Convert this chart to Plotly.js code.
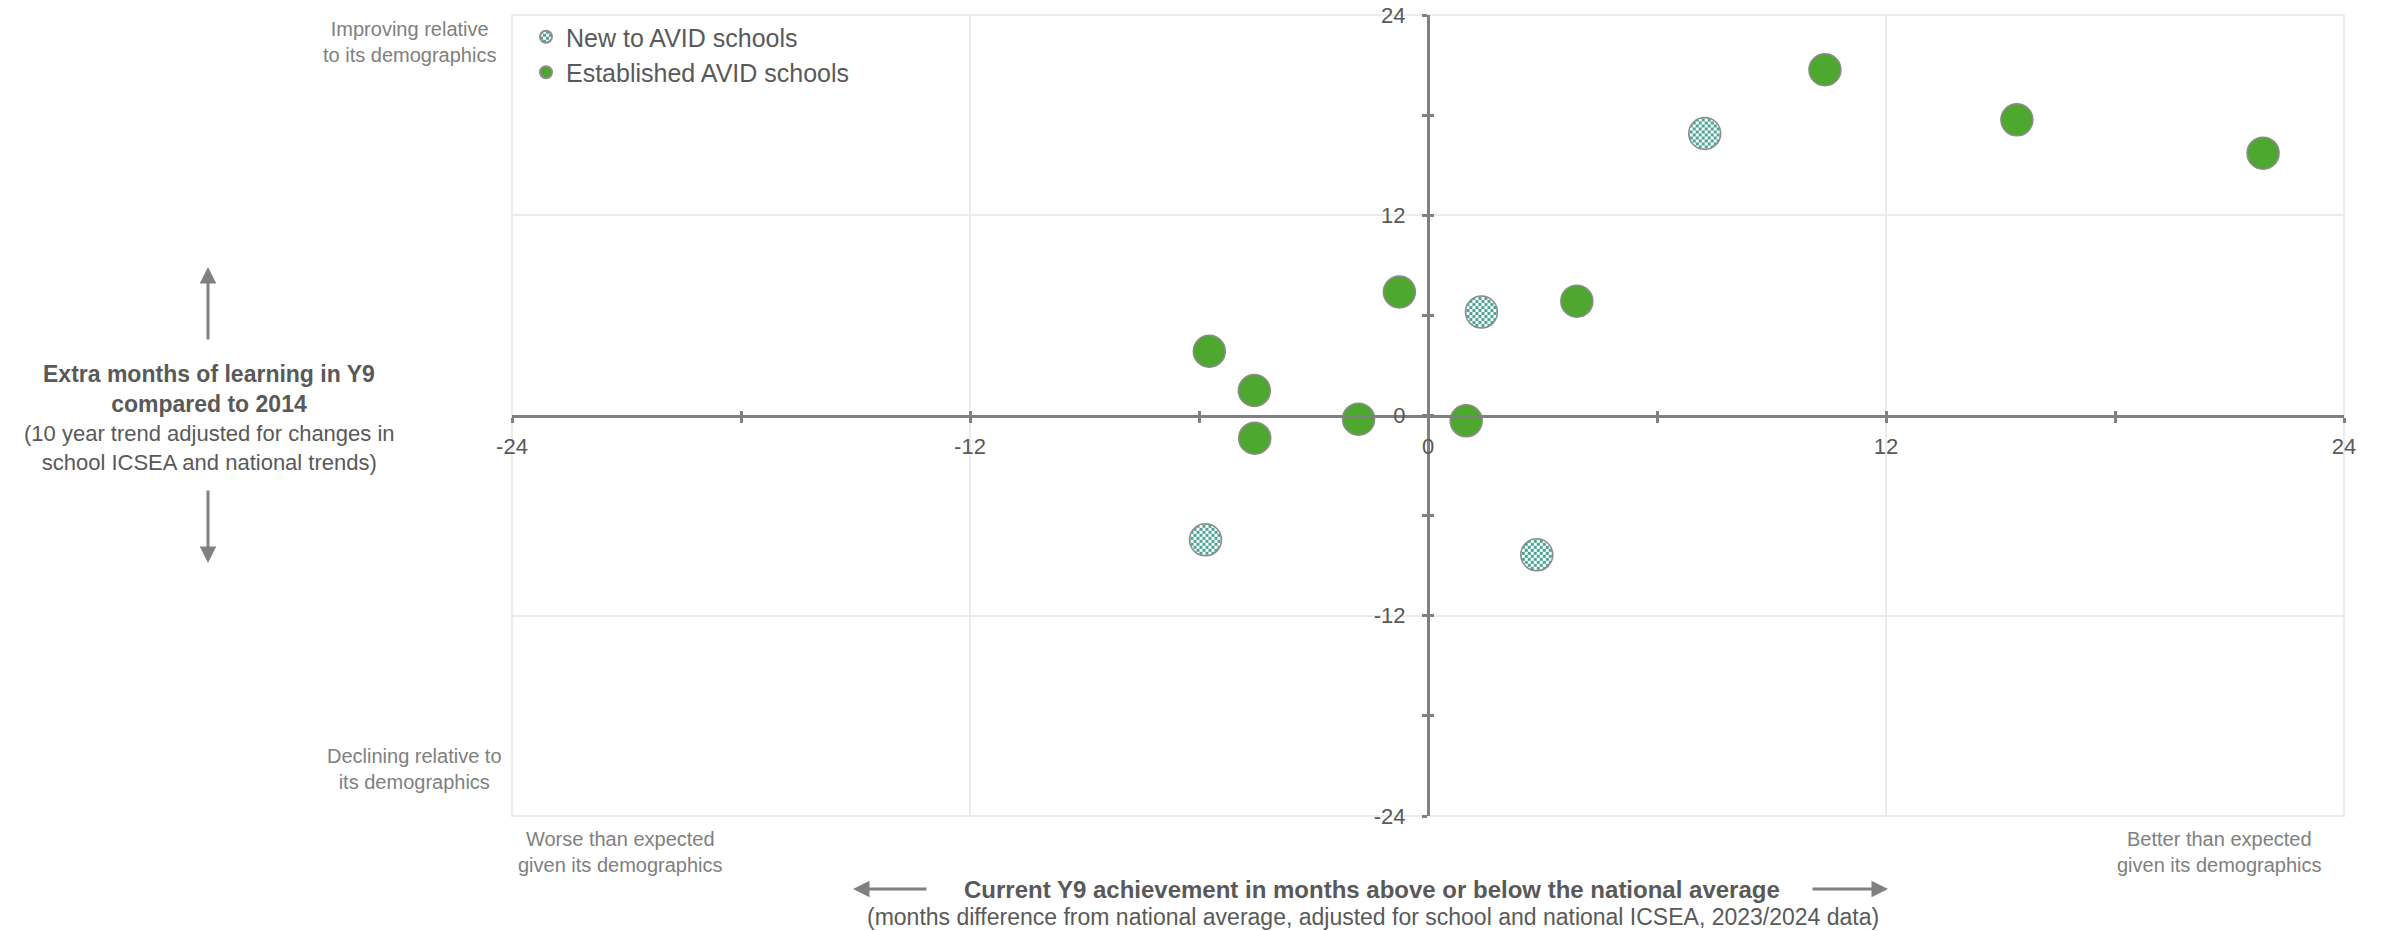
<!DOCTYPE html>
<html>
<head>
<meta charset="utf-8">
<script src="https://cdn.plot.ly/plotly-3.0.1.min.js"></script>
<style>
  html, body { margin: 0; padding: 0; background: #ffffff; }
  #chart { width: 2382px; height: 931px; }
</style>
</head>
<body>
<svg width="0" height="0" style="position:absolute">
  <defs>
    <pattern id="chk" patternUnits="userSpaceOnUse" width="6" height="6">
      <rect width="6" height="6" fill="#ffffff"></rect>
      <rect width="3" height="3" fill="#4aa596"></rect>
      <rect x="3" y="3" width="3" height="3" fill="#4aa596"></rect>
    </pattern>
  </defs>
</svg>
<div id="chart"></div>
<script>
// ---- Data (months) ----
const seriesNames = ["New to AVID schools", "Established AVID schools"];
const newX = [7.25, 1.4, -5.83, 2.85];
const newY = [16.9, 6.2, -7.45, -8.35];
const estX = [10.4, 15.43, 21.88, -0.75, 3.9, -5.73, -4.55, -1.82, 1.0, -4.54];
const estY = [20.72, 17.72, 15.72, 7.4, 6.85, 3.85, 1.5, -0.22, -0.32, -1.36];

const xTickVals = [-24, -12, 0, 12, 24];
const xTickText = ["-24", "-12", "0", "12", "24"];
const yTickVals = [-24, -12, 0, 12, 24];
const yTickText = ["-24", "-12", "0", "12", "24"];
const axisRange = [-24, 24];

// ---- Layout geometry (pixels) ----
const W = 2382, H = 931;
const M = { l: 512, r: 38, t: 15, b: 115 };
const PW = W - M.l - M.r, PH = H - M.t - M.b;
const px = v => (v - M.l) / PW;
const py = v => (M.t + PH - v) / PH;

const FONT = '"Liberation Sans", Arial, sans-serif';
const DARK = '#595959';
const LIGHT = '#808080';
const AXIS = '#808080';
const GRID = '#ececec';

const traces = [
  {
    name: seriesNames[0], x: newX, y: newY, type: 'scatter', mode: 'markers',
    marker: { size: 32, color: '#a4d2c9', line: { color: '#8c8c8c', width: 1.5 } },
    hoverinfo: 'skip'
  },
  {
    name: seriesNames[1], x: estX, y: estY, type: 'scatter', mode: 'markers',
    marker: { size: 32, color: '#4ea72e', line: { color: '#8c8c8c', width: 1.5 } },
    hoverinfo: 'skip'
  },
  { x: [null], y: [null], xaxis: 'x2', yaxis: 'y2', type: 'scatter', mode: 'markers',
    showlegend: false, hoverinfo: 'skip' }
];

function ann(text, x, y, size, color, extra) {
  return Object.assign({
    text: text, xref: 'paper', yref: 'paper', x: px(x), y: py(y),
    xanchor: 'center', yanchor: 'middle', showarrow: false, align: 'center',
    font: { family: FONT, size: size, color: color }
  }, extra || {});
}
function arrow(tipX, tipY, ax, ay) {
  return {
    text: '', xref: 'paper', yref: 'paper', x: px(tipX), y: py(tipY),
    ax: ax, ay: ay, showarrow: true, arrowhead: 2, arrowsize: 1.1,
    arrowwidth: 3, arrowcolor: AXIS, standoff: 0, startstandoff: 0
  };
}

const annotations = [
  ann('Improving relative<br>to its demographics', 409, 42, 20, LIGHT),
  ann('Declining relative to<br>its demographics', 414, 769, 20, LIGHT),
  ann('Worse than expected<br>given its demographics', 620, 852, 20, LIGHT),
  ann('Better than expected<br>given its demographics', 2219, 852, 20, LIGHT),
  ann('<b>Extra months of learning in Y9<br>compared to 2014</b>', 209, 389, 23, DARK),
  ann('(10 year trend adjusted for changes in<br>school ICSEA and national trends)', 209, 448, 22, DARK),
  ann('<b>Current Y9 achievement in months above or below the national average</b>', 1372, 889, 24, DARK),
  ann('(months difference from national average, adjusted for school and national ICSEA, 2023/2024 data)', 1373, 917, 23, DARK),
  arrow(208, 267, 0, 74),
  arrow(208, 563, 0, -74),
  arrow(853, 889, 75, 0),
  arrow(1888, 889, -77, 0)
];

const baseAxis = {
  range: axisRange, autorange: false, fixedrange: true,
  anchor: 'free', position: 0.5,
  showline: true, linecolor: AXIS, linewidth: 3,
  zeroline: false,
  showgrid: true, gridcolor: GRID, gridwidth: 2,
  tickmode: 'array',
  ticks: 'outside', ticklen: 5, tickwidth: 3, tickcolor: AXIS,
  tickfont: { family: FONT, size: 22, color: DARK },
  minor: { tickmode: 'linear', tick0: 0, dtick: 6, ticks: 'outside', ticklen: 5,
           tickwidth: 3, tickcolor: AXIS, showgrid: false }
};

const layout = {
  width: W, height: H,
  margin: M,
  paper_bgcolor: '#ffffff', plot_bgcolor: '#ffffff',
  font: { family: FONT, color: DARK },
  showlegend: true,
  legend: {
    x: px(526), y: py(14), xanchor: 'left', yanchor: 'top',
    font: { family: FONT, size: 25, color: DARK },
    bgcolor: 'rgba(0,0,0,0)', itemsizing: 'constant', tracegroupgap: 0
  },
  xaxis: Object.assign({}, baseAxis, {
    tickvals: xTickVals, ticktext: xTickText, ticklabelstandoff: 5
  }),
  yaxis: Object.assign({}, baseAxis, {
    tickvals: yTickVals, ticktext: yTickText, ticklabelstandoff: 12
  }),
  xaxis2: {
    overlaying: 'x', range: axisRange, autorange: false, fixedrange: true,
    anchor: 'free', position: 0.5, showline: false, zeroline: false, showgrid: false,
    tickmode: 'linear', tick0: 0, dtick: 6, ticks: 'inside', ticklen: 5,
    tickwidth: 3, tickcolor: AXIS, showticklabels: false
  },
  yaxis2: {
    overlaying: 'y', range: axisRange, autorange: false, fixedrange: true,
    anchor: 'free', position: 0.5, showline: false, zeroline: false, showgrid: false,
    tickmode: 'linear', tick0: 0, dtick: 6, ticks: 'inside', ticklen: 5,
    tickwidth: 3, tickcolor: AXIS, showticklabels: false
  },
  shapes: [
    { type: 'rect', xref: 'paper', yref: 'paper', x0: 0, x1: 1, y0: 0, y1: 1,
      line: { color: GRID, width: 2 }, layer: 'below' }
  ],
  annotations: annotations
};

Plotly.newPlot('chart', traces, layout, { staticPlot: true, displayModeBar: false })
  .then(function (gd) {
    const tr = gd.querySelectorAll('.subplot.xy .scatterlayer .trace');
    if (tr.length) {
      tr[0].querySelectorAll('path.point').forEach(function (p) { p.style.fill = 'url(#chk)'; });
    }
    const lg = gd.querySelectorAll('.legend .traces');
    if (lg.length) {
      lg[0].querySelectorAll('path.scatterpts').forEach(function (p) { p.style.fill = 'url(#chk)'; });
    }
  });
</script>
</body>
</html>
